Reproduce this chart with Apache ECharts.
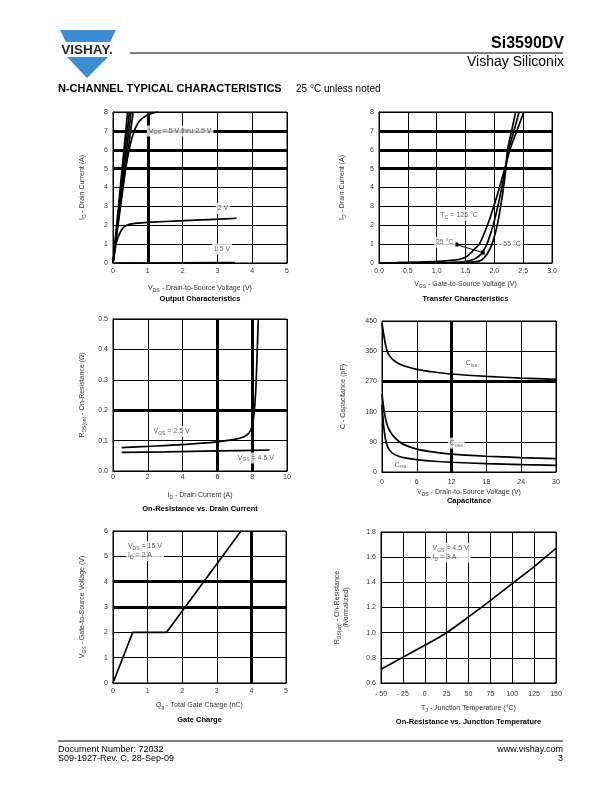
<!DOCTYPE html>
<html><head><meta charset="utf-8">
<script src="https://cdn.jsdelivr.net/npm/echarts@6/dist/echarts.min.js"></script>
<style>html,body{margin:0;padding:0;background:#fff}#c{width:612px;height:792px}</style>
</head><body><div id="c"></div>
<script>
// ---------- Output Characteristics (VDS, ID) ----------
const outVgs5   = [[0,0],[0.42,8]];
const outVgs4   = [[0,0],[0.47,8]];
const outVgs3p5 = [[0,0],[0.52,8]];
const outVgs3   = [[0,0],[0.58,8]];
const outVgs2p5 = [[0,0],[0.1,1.6],[0.2,3.0],[0.3,4.3],[0.4,5.4],[0.5,6.3],[0.6,6.95],[0.7,7.35],[0.8,7.6],[1.0,7.85],[1.15,7.95],[1.3,8.0]];
const outVgs2   = [[0,0],[0.05,0.6],[0.1,1.1],[0.2,1.6],[0.3,1.88],[0.4,2.0],[0.5,2.06],[0.7,2.11],[1.0,2.15],[1.5,2.2],[2.0,2.24],[2.5,2.28],[3.0,2.32],[3.55,2.37]];
const outVgs1p5 = [[0,0],[3.5,0.02]];
// ---------- Transfer Characteristics (VGS, ID) ----------
const trTc125 = [[0,0],[0.3,0.02],[0.5,0.04],[0.8,0.06],[1.1,0.1],[1.3,0.15],[1.4,0.2],[1.5,0.3],[1.58,0.5],[1.66,0.75],[1.74,1.0],[1.88,2.0],[1.99,3.0],[2.09,4.0],[2.18,5.0],[2.27,6.0],[2.39,7.0],[2.51,8.0]];
const trTc25  = [[0,0],[1.0,0.01],[1.3,0.03],[1.5,0.08],[1.65,0.2],[1.72,0.33],[1.78,0.5],[1.87,1.0],[1.98,2.0],[2.06,3.0],[2.13,4.0],[2.19,5.0],[2.25,6.0],[2.34,7.0],[2.43,8.0]];
const trTcM55 = [[0,0],[1.2,0.01],[1.5,0.03],[1.65,0.06],[1.74,0.1],[1.8,0.2],[1.88,0.5],[1.96,1.0],[2.05,2.0],[2.11,3.0],[2.16,4.0],[2.2,5.0],[2.23,6.0],[2.3,7.0],[2.37,8.0]];
// ---------- On-Resistance vs Drain Current (ID, RDS) ----------
const ronVgs2p5 = [[0.5,0.077],[2,0.081],[4,0.087],[6,0.096],[7,0.104],[7.5,0.112],[7.8,0.124],[8.0,0.148],[8.1,0.185],[8.2,0.26],[8.28,0.38],[8.35,0.5]];
const ronVgs4p5 = [[0.5,0.061],[3,0.063],[6,0.066],[9,0.069]];
// ---------- Capacitance (VDS, pF) ----------
const capCiss = [[0,443],[0.3,410],[0.6,380],[1,355],[1.5,342],[2,333],[3,322],[4,315],[6,306],[9,298],[12,292],[18,285],[24,280],[30,276]];
const capCoss = [[0,232],[0.3,190],[0.6,160],[1,135],[1.5,118],[2,106],[3,90],[4,80],[6,68],[9,59],[12,53],[18,47],[24,43],[30,40]];
const capCrss = [[0,200],[0.3,135],[0.6,98],[1,74],[1.5,61],[2,54],[3,46],[4,42],[6,37],[9,32],[12,29],[18,25],[24,22],[30,20]];
// ---------- Gate Charge (Qg, VGS) ----------
const gcQg  = [0, 0.57, 1.55, 3.7];
const gcVgs = [0, 2, 2, 6];
// ---------- On-Resistance vs Junction Temperature ----------
const rtTemp = [-50,-25,0,25,50,75,100,125,150];
const rtRon  = [0.71,0.805,0.9,1.0,1.125,1.255,1.39,1.525,1.67];

const F = '"Liberation Sans", Arial, Helvetica, sans-serif';
const TXT = '#333';
const RICH = {
  n:{fontSize:7,color:TXT,fontFamily:F,lineHeight:9},
  s:{fontSize:5,color:TXT,fontFamily:F,lineHeight:5,verticalAlign:'bottom'}
};

const grids = [
  {left:113,top:112,width:174,height:151},
  {left:379,top:112,width:173,height:151},
  {left:113,top:319,width:174,height:152},
  {left:382,top:321,width:174,height:151},
  {left:113,top:531,width:173,height:152},
  {left:381,top:532,width:175,height:151}
].map(g=>Object.assign({show:true,borderColor:'#000',borderWidth:1,containLabel:false},g));

function axis(gi, min, max, interval, margin, fmt, name, nameGap, isY){
  return {
    gridIndex:gi, type:'value', min, max, interval,
    axisLine:{show:true,onZero:false,lineStyle:{color:'#000',width:1}},
    axisTick:{show:false},
    splitLine:{show:true,lineStyle:{color:'#000',width:1}},
    axisLabel:{fontSize:7,color:TXT,fontFamily:F,margin,formatter:fmt,showMinLabel:true,showMaxLabel:true},
    name, nameLocation:'middle', nameGap, nameRotate: isY?90:0,
    nameTextStyle:{fontSize:7,color:TXT,fontFamily:F,rich:RICH}
  };
}
const f1 = v=>v.toFixed(1);
const fT = v=> v<0 ? '- '+(-v) : String(v);

const xAxis = [
  axis(0,0,5,1,5,null,'{n|V}{s|DS}{n| - Drain-to-Source Voltage (V)}',21),
  axis(1,0,3,0.5,5,f1,'{n|V}{s|GS}{n| - Gate-to-Source Voltage (V)}',17),
  axis(2,0,10,2,3,null,'{n|I}{s|D}{n| - Drain Current (A)}',20),
  axis(3,0,30,6,7,null,'{n|V}{s|DS}{n| - Drain-to-Source Voltage (V)}',16),
  axis(4,0,5,1,5,null,'{n|Q}{s|g}{n| - Total Gate Charge (nC)}',18),
  axis(5,-50,150,25,8,fT,'{n|T}{s|J}{n| - Junction Temperature (°C)}',21)
];
const yAxis = [
  axis(0,0,8,1,5,null,'{n|I}{s|D}{n| - Drain Current (A)}',26,true),
  axis(1,0,8,1,5,null,'{n|I}{s|D}{n| - Drain Current (A)}',32,true),
  axis(2,0,0.5,0.1,5,f1,'{n|R}{s|DS(on)}{n| - On-Resistance (Ω)}',26,true),
  axis(3,0,450,90,5,null,'{n|C - Capacitance (pF)}',34,true),
  axis(4,0,6,1,5,null,'{n|V}{s|GS}{n| - Gate-to-Source Voltage (V)}',26,true),
  axis(5,0.6,1.8,0.2,5,f1,'{n|R}{s|DS(on)}{n| - On-Resistance}\n{n|(Normalized)}',30,true)
];

function curve(gi, data, smooth, marks){
  const s = {type:'line', xAxisIndex:gi, yAxisIndex:gi, data, showSymbol:false, symbol:'none',
    smooth: smooth ? 0.3 : false, silent:true, z:3,
    lineStyle:{color:'#000',width:1.7}};
  if (marks) s.markLine = {silent:true, symbol:['none','none'], label:{show:false},
    lineStyle:{color:'#000',width:3,type:'solid'}, data:marks, animation:false};
  return s;
}
function note(gi, x, y, text, bg, pos){
  return {type:'scatter', xAxisIndex:gi, yAxisIndex:gi, z:10, silent:true, symbolSize:1,
    itemStyle:{color:'rgba(0,0,0,0)'}, data:[[x,y]],
    label:{show:true, position:pos||'inside', distance:0, formatter:text, rich:RICH, color:TXT, fontSize:7, fontFamily:F,
      backgroundColor: bg ? '#fff' : 'transparent', padding:[1,2], lineHeight:9}};
}

const series = [
  curve(0, outVgs5, false, [{xAxis:1},{yAxis:5},{yAxis:6},{yAxis:7}]),
  curve(0, outVgs4, false), curve(0, outVgs3p5, false), curve(0, outVgs3, false),
  curve(0, outVgs2p5, true), curve(0, outVgs2, true), curve(0, outVgs1p5, false),
  note(0, 1.93, 7.0, '{n|V}{s|GS}{n| = 5 V thru 2.5 V}', true),
  note(0, 3.16, 2.9, '{n|2 V}', true),
  note(0, 3.13, 0.73, '{n|1.5 V}', true),

  curve(1, trTc125, true, [{yAxis:5},{yAxis:6},{yAxis:7}]),
  curve(1, trTc25, true), curve(1, trTcM55, true),
  {type:'line', xAxisIndex:1, yAxisIndex:1, data:[[1.34,0.98],[1.8,0.55]], symbol:['none','arrow'], symbolSize:4, showSymbol:true, silent:true, z:4, lineStyle:{color:'#000',width:1}, itemStyle:{color:'#000'}},
  note(1, 1.39, 2.53, '{n|T}{s|C}{n| = 125 °C}', true),
  note(1, 1.14, 1.1, '{n|25 °C}', true),
  note(1, 2.27, 0.99, '{n|- 55 °C}', true),

  curve(2, ronVgs2p5, true, [{xAxis:6},{xAxis:8},{yAxis:0.2}]),
  curve(2, ronVgs4p5, true),
  note(2, 3.37, 0.13, '{n|V}{s|GS}{n| = 2.5 V}', true),
  note(2, 8.21, 0.043, '{n|V}{s|GS}{n| = 4.5 V}', true),

  curve(3, capCiss, true, [{xAxis:12},{yAxis:270}]),
  curve(3, capCoss, true), curve(3, capCrss, true),
  note(3, 15.4, 324, '{n|C}{s|iss}', false),
  note(3, 12.8, 86, '{n|C}{s|oss}', true),
  note(3, 3.15, 22, '{n|C}{s|rss}', false),

  curve(4, gcQg.map((q,i)=>[q,gcVgs[i]]), false, [{xAxis:4},{yAxis:3},{yAxis:4}]),
  note(4, 0.36, 5.21, '{n|V}{s|DS}{n| = 15 V}\n{n|I}{s|D}{n| = 2 A}', true, 'right'),

  curve(5, rtTemp.map((t,i)=>[t,rtRon[i]]), true),
  note(5, 6, 1.635, '{n|V}{s|GS}{n| = 4.5 V}\n{n|I}{s|D}{n| = 3 A}', true, 'right')
];

const titleStyle = {fontSize:7.5,fontWeight:'bold',color:'#000',fontFamily:F};
const titles = [
  ['Output Characteristics',200,295],
  ['Transfer Characteristics',465.5,295],
  ['On-Resistance vs. Drain Current',200,505],
  ['Capacitance',469,497],
  ['Gate Charge',199.5,716],
  ['On-Resistance vs. Junction Temperature',468.5,717.5]
].map(t=>({text:t[0],left:t[1],top:t[2],textAlign:'center',padding:0,textStyle:titleStyle}));

const BLUE = '#3b8ed3';
const graphic = [
  {type:'polygon',shape:{points:[[60,30],[116,30],[110,42],[66,42]]},style:{fill:BLUE}},
  {type:'polygon',shape:{points:[[67,57],[108,57],[87,78]]},style:{fill:BLUE}},
  {type:'text',x:87,y:50.5,style:{text:'VISHAY.',font:'bold 13.5px '+F,fill:'#231f20',align:'center',verticalAlign:'middle'}},
  {type:'line',shape:{x1:130,y1:53,x2:563,y2:53},style:{stroke:'#000',lineWidth:1}},
  {type:'text',x:564,y:43.5,style:{text:'Si3590DV',font:'bold 16px '+F,fill:'#000',align:'right',verticalAlign:'middle'}},
  {type:'text',x:564,y:62,style:{text:'Vishay Siliconix',font:'14px '+F,fill:'#000',align:'right',verticalAlign:'middle'}},
  {type:'text',x:58,y:89,style:{text:'N-CHANNEL TYPICAL CHARACTERISTICS',font:'bold 11px '+F,fill:'#000',align:'left',verticalAlign:'middle'}},
  {type:'text',x:296,y:89,style:{text:'25 °C unless noted',font:'10px '+F,fill:'#000',align:'left',verticalAlign:'middle'}},
  {type:'line',shape:{x1:58,y1:741,x2:563,y2:741},style:{stroke:'#000',lineWidth:1}},
  {type:'text',x:58,y:749.5,style:{text:'Document Number: 72032',font:'9px '+F,fill:'#000',align:'left',verticalAlign:'middle'}},
  {type:'text',x:58,y:758.5,style:{text:'S09-1927-Rev. C, 28-Sep-09',font:'9px '+F,fill:'#000',align:'left',verticalAlign:'middle'}},
  {type:'text',x:563,y:749.5,style:{text:'www.vishay.com',font:'9px '+F,fill:'#000',align:'right',verticalAlign:'middle'}},
  {type:'text',x:563,y:758.5,style:{text:'3',font:'9px '+F,fill:'#000',align:'right',verticalAlign:'middle'}}
];

const chart = echarts.init(document.getElementById('c'), null, {renderer:'canvas', width:612, height:792});
chart.setOption({
  animation:false, backgroundColor:'#fff',
  textStyle:{fontFamily:F},
  grid:grids, xAxis, yAxis, series, title:titles, graphic
});
</script></body></html>
